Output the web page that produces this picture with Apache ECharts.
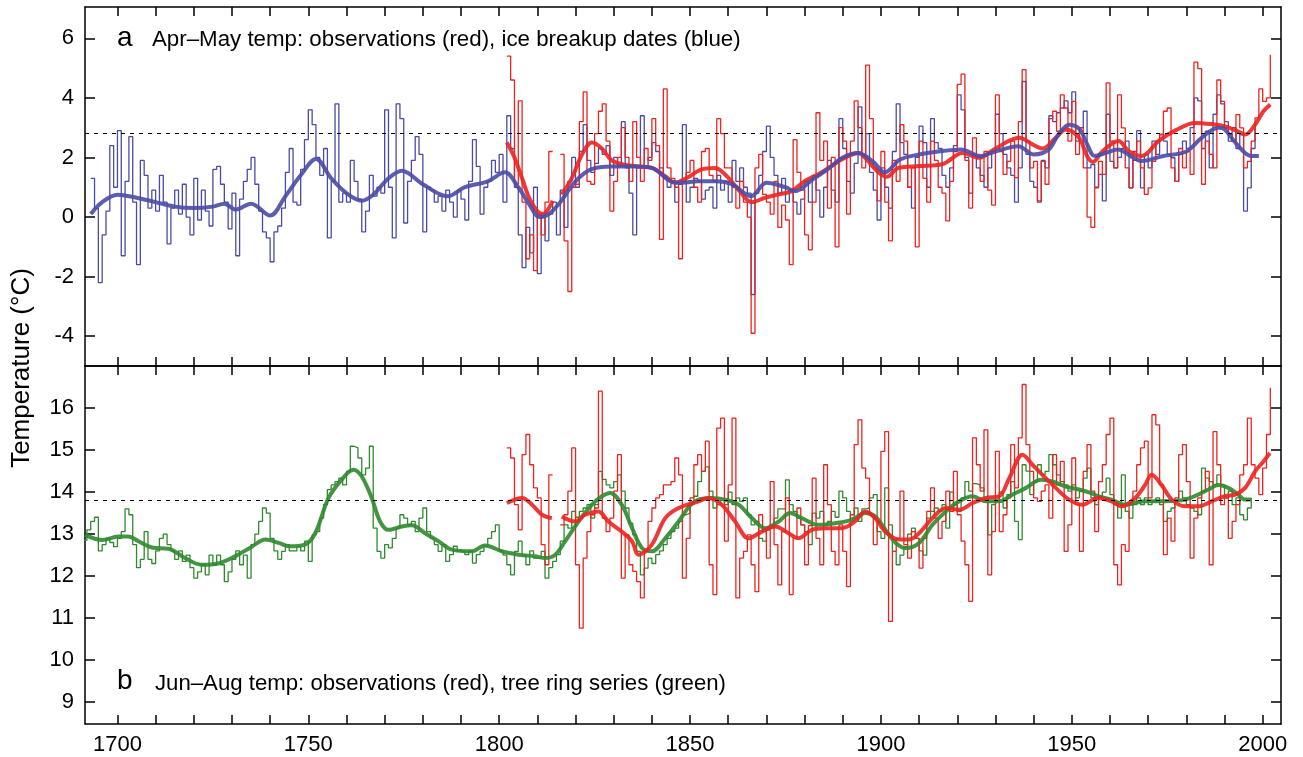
<!DOCTYPE html>
<html>
<head>
<meta charset="utf-8">
<title>Apr-May and Jun-Aug temperature</title>
<script src="https://cdn.jsdelivr.net/npm/echarts@6/dist/echarts.min.js"></script>
<style>
  html, body { margin: 0; padding: 0; background: #fff; }
  #main { width: 1303px; height: 757px; }
</style>
</head>
<body>
<div id="main"></div>
<script>
// ---- axes ----
var yearTicks = [1700, 1710, 1720, 1730, 1740, 1750, 1760, 1770, 1780, 1790, 1800, 1810, 1820, 1830, 1840,
  1850, 1860, 1870, 1880, 1890, 1900, 1910, 1920, 1930, 1940, 1950, 1960, 1970, 1980, 1990, 2000];
var yearLabels = [1700, 1750, 1800, 1850, 1900, 1950, 2000];
var topTicks = [-4, -2, 0, 2, 4, 6];
var bottomTicks = [9, 10, 11, 12, 13, 14, 15, 16];
var topRef = 2.8;
var bottomRef = 13.8;

// ---- panel a: Apr-May ----
// ice breakup reconstruction (blue), one value per year from iceStart
var iceStart = 1693;
var iceAnnual = [
  1.3, 0.3, -2.2, -0.6, 0.2, 2.4, 1.0,
  2.9, -1.3, 1.2, 2.7, 0.5, -1.6, 1.9, 1.4, 0.3, 0.9,
  0.2, 1.4, 0.5, -0.9, 0.3, 0.9, 0.1, 1.1, 0.0, -0.6,
  1.3, -0.1, 0.9, 0.2, -0.3, 1.6, 1.7, 1.1, 0.5, -0.4,
  0.8, -1.3, 0.6, 1.2, 1.6, 2.0, 1.1, 0.2, -0.5, -0.7,
  -1.5, -0.5, -0.3, 0.3, 1.5, 2.3, 0.5, 0.4, 1.6, 2.6,
  3.6, 3.1, 2.0, 1.4, 2.3, -0.7, 1.2, 3.8, 0.5, 0.8,
  0.5, 1.9, 1.2, 0.6, -0.5, 0.2, 1.4, 0.7, 1.0, 0.8,
  3.6, 1.0, -0.7, 3.8, 3.3, -0.2, 1.2, 1.9, 2.7, 2.1,
  -0.5, 1.0, 0.9, 0.5, 0.7, 0.2, 0.9, 0.5, 0.0, 0.9,
  0.6, -0.1, 1.2, 2.6, 1.7, 0.1, 1.0, 1.2, 1.9, 1.5,
  2.1, 0.5, 3.4, 2.3, 1.0, -0.6, -1.7, -0.35, -1.2, 1.0,
  -1.9, 0.0, -0.8, 0.1, 0.5, -0.6, 0.9, -0.35, 1.2, 2.0,
  1.0, 2.2, 3.1, 1.9, 1.5, 1.8, 2.3, 2.1, 2.4, 1.4,
  2.0, 1.7, 3.2, 1.65, 0.8, -0.6, 1.65, 3.4, 1.65, 2.0,
  2.5, 2.2, 1.65, 1.3, 1.0, 1.2, 0.5, 1.1, 3.1, 0.5,
  1.0, 1.3, 1.2, 0.6, 0.9, 1.0, 0.3, 1.4, 0.9, 1.2,
  0.5, 1.9, 1.2, 1.65, 1.0, 0.8, -2.6, 0.8, 1.4, 2.2,
  3.05, 2.0, 1.4, 0.8, 1.3, 0.5, 0.9, 0.5, 0.1, 0.6,
  1.2, 0.5, 1.4, 0.9, 0.0, 1.0, 1.9, 0.9, 0.5, 3.3,
  2.3, 1.2, 0.8, 1.8, 3.7, 2.1, 2.8, 1.5, 0.9, -0.1,
  1.65, 1.0, 0.3, 2.2, 3.8, 2.5, 2.1, 1.0, 0.3, 2.0,
  3.05, 2.5, 1.0, 3.3, 2.5, 2.3, 1.4, 1.0, 1.65, 2.4,
  4.1, 3.6, 2.0, 0.8, 2.1, 1.65, 1.4, 1.0, 1.65, 2.2,
  3.45, 2.8, 2.1, 1.65, 1.4, 0.5, 1.65, 4.55, 2.1, 1.2,
  1.0, 0.5, 1.9, 1.65, 3.4, 3.2, 3.5, 3.66, 3.9, 3.5,
  4.2, 2.55, 3.0, 3.55, 1.65, 1.76, 1.0, 1.43, 0.54, 3.45,
  1.87, 1.65, 2.0, 2.3, 2.55, 0.98, 1.9, 2.9, 0.98, 2.1,
  1.65, 2.55, 2.1, 2.77, 2.55, 2.1, 1.99, 1.2, 2.1, 2.55,
  2.3, 3.0, 4.0, 3.9, 2.3, 2.88, 1.65, 3.45, 4.1, 3.8,
  3.2, 2.55, 3.0, 2.3, 2.77, 0.2, 0.98, 2.3, 3.2
];
var iceSmooth = [[1693,0.1],[1696,0.5],[1700,0.75],[1705,0.65],[1710,0.5],[1715,0.35],[1720,0.3],[1725,0.35],
  [1728,0.45],[1731,0.25],[1735,0.45],[1740,0.05],[1744,0.7],[1748,1.4],[1752,1.95],[1756,1.3],[1760,0.8],
  [1764,0.55],[1767,0.75],[1771,1.3],[1774.5,1.55],[1780,1.1],[1786.5,0.7],[1791,1.0],[1797,1.2],[1801.5,1.5],
  [1805,1.0],[1808,0.4],[1810.5,0.0],[1813,0.1],[1816,0.5],[1820,1.2],[1824,1.6],[1829.5,1.7],[1836,1.7],
  [1840,1.65],[1845,1.2],[1848,1.15],[1852,1.2],[1857,1.2],[1861,1.1],[1866,0.7],[1870,1.15],[1875,1.0],
  [1877.5,0.87],[1882,1.25],[1886,1.6],[1890,2.0],[1894,2.15],[1898,1.85],[1901,1.5],[1905,1.93],[1910,2.1],
  [1915,2.2],[1921,2.27],[1926,2.05],[1930,2.2],[1936,2.38],[1940,2.1],[1944,2.27],[1946.5,2.77],[1949.3,3.1],
  [1952,2.95],[1954,2.45],[1956,2.05],[1960,2.2],[1962,2.27],[1966,2.0],[1968.3,1.88],[1974,2.05],[1980,2.2],
  [1984,2.66],[1988.4,3.0],[1990,2.95],[1992.5,2.55],[1995.4,2.15],[1997,2.05],[1999,2.05]];

// Apr-May observations (red), null = no record
var aprMayStart = 1802;
var aprMayObs = [
  5.4, 4.6, 1.1, 3.9, 0.5, -1.4, -0.6, -1.8,
  0.1, -0.6, 0.5, 2.2, null, null, 2.1, -0.8, -2.5, 1.0,
  1.1, 3.2, 4.2, 1.2, 1.1, 2.8, 3.55, 3.8, 2.55, 0.2,
  1.2, 2.0, 3.0, 2.0, 1.2, 3.2, 2.0, 1.2, 2.3, 1.9,
  3.3, 2.4, -0.75, 4.3, 1.65, 1.3, 1.0, -1.4, 1.2, 1.5,
  1.9, 1.0, 0.5, 2.2, 2.3, 1.4, 1.2, 3.3, 2.8, 1.65,
  1.65, 1.0, 0.3, 1.2, 0.5, 0.0, -3.9, 1.65, 2.1, 0.76,
  0.5, 0.1, 1.2, -0.35, 0.4, -0.1, -1.6, 2.6, 1.5, 0.9,
  -0.6, -1.1, 0.5, 3.5, 1.9, 2.55, 0.3, 2.0, -1.0, 3.0,
  2.55, 0.1, 2.55, 3.9, 3.0, 1.65, 5.1, 3.3, 1.65, 0.54,
  2.2, 0.5, -0.8, 1.9, 1.2, 3.1, 2.55, 1.0, 1.65, -1.0,
  2.55, 1.3, 0.5, 2.55, 1.9, 1.0, 0.8, -0.13, 1.2, 2.2,
  4.45, 4.8, 1.9, 0.3, 2.66, 2.0, 1.2, 2.2, 0.9, 0.4,
  4.1, 2.2, 1.43, 1.87, 2.55, 1.32, 3.2, 4.95, 2.55, 1.65,
  1.87, 0.54, 1.87, 1.1, 3.3, 3.55, 2.88, 4.1, 3.66, 2.55,
  3.88, 2.1, 3.0, 1.65, 0.0, -0.35, 0.98, 1.87, 1.43, 4.5,
  2.55, 1.65, 4.1, 2.99, 1.65, 0.98, 2.2, 2.55, 1.65, 0.76,
  0.98, 1.87, 2.55, 2.77, 3.55, 3.66, 1.65, 1.2, 2.3, 1.65,
  2.2, 1.43, 5.2, 4.98, 1.1, 2.55, 2.1, 1.65, 4.6, 3.88,
  2.99, 2.77, 2.55, 3.44, 2.99, 1.65, 1.87, 2.55, 3.33, 4.3,
  3.88, 4.0, 5.45
];
var aprMaySmoothEarly = [[1802,2.5],[1804,2.0],[1806,1.3],[1808,0.6],[1810,0.2],[1811.5,0.1],[1813,0.3],[1814,0.55]];
var aprMaySmooth = [[1816.4,0.76],[1819,1.3],[1821.7,2.1],[1824.3,2.5],[1826.9,2.3],[1829.5,1.9],[1833,1.75],
  [1836.5,1.7],[1840,1.65],[1843.5,1.37],[1846,1.15],[1849,1.3],[1853,1.6],[1856.5,1.65],[1860,1.32],[1863,0.87],
  [1866.2,0.5],[1869.7,0.65],[1873.2,0.76],[1876.6,0.87],[1880,1.2],[1883.5,1.43],[1887,1.71],[1890.6,1.99],
  [1894.1,2.15],[1896.3,1.93],[1899,1.54],[1901.5,1.35],[1904.6,1.65],[1910,1.71],[1916,1.77],[1921.4,2.15],
  [1925.7,1.99],[1930,2.3],[1936.2,2.66],[1939.7,2.44],[1942.3,2.3],[1945.8,2.66],[1948.4,2.94],[1951.9,2.66],
  [1954,2.05],[1955.5,1.85],[1958,2.2],[1962.2,2.55],[1965,2.2],[1968.3,2.05],[1972.7,2.55],[1977,2.9],
  [1982.3,3.16],[1986.6,3.12],[1990,3.05],[1993.5,2.88],[1995.4,2.77],[1998,3.1],[2000.2,3.55],[2002,3.78]];

// ---- panel b: Jun-Aug ----
// tree ring reconstruction (green)
var treeStart = 1691;
var treeAnnual = [
  12.85, 13.1, 13.3, 13.4, 12.6, 12.75, 12.9, 12.8, 12.7,
  12.9, 13.06, 13.6, 13.46, 12.75, 12.2, 12.4, 13.06, 12.4, 12.3,
  12.6, 12.9, 13.0, 12.75, 12.6, 12.4, 12.6, 12.35, 12.5, 12.2,
  11.95, 12.1, 12.27, 12.03, 12.5, 12.27, 12.5, 12.27, 11.87, 12.1,
  12.4, 12.6, 12.27, 12.5, 11.95, 12.75, 13.0, 13.3, 13.62, 13.5,
  12.9, 12.6, 12.4, 12.59, 12.75, 12.6, 12.6, 12.7, 12.6, 12.83,
  12.35, 12.98, 13.06, 13.38, 13.7, 14.06, 14.17, 14.25, 14.33, 14.17,
  14.49, 15.09, 15.05, 14.81, 14.41, 14.57, 15.09, 13.14, 12.59, 12.43,
  12.75, 12.67, 12.9, 13.14, 13.46, 13.38, 13.22, 13.3, 13.06, 13.38,
  13.62, 13.06, 12.9, 12.75, 12.59, 12.75, 12.35, 12.51, 12.71, 12.6,
  12.59, 12.51, 12.59, 12.31, 12.51, 12.59, 12.71, 12.9, 13.06, 13.22,
  12.6, 12.5, 12.27, 12.03, 12.59, 12.83, 12.5, 12.27, 12.6, 12.43,
  12.45, 12.59, 11.95, 12.2, 12.35, 12.51, 12.83, 13.22, 13.14, 13.54,
  13.4, 13.54, 13.62, 13.7, 13.38, 13.7, 14.49, 14.3, 14.17, 14.1,
  14.25, 14.41, 14.02, 13.62, 13.26, 12.98, 12.59, 12.03, 12.19, 12.43,
  12.3, 12.51, 12.6, 12.75, 12.9, 13.06, 13.14, 13.3, 13.46, 13.5,
  13.7, 13.9, 14.25, 14.49, 14.6, 14.02, 13.62, 13.7, 13.8, 13.7,
  14.0, 13.7, 13.86, 13.78, 13.86, 13.46, 13.22, 13.3, 12.9, 12.83,
  13.1, 13.22, 13.38, 13.6, 13.6, 14.29, 13.7, 13.54, 13.38, 13.22,
  13.06, 12.75, 13.5, 13.38, 13.54, 13.22, 13.3, 13.54, 13.4, 14.02,
  13.86, 13.54, 13.38, 13.62, 13.3, 13.6, 13.62, 13.86, 13.94, 13.06,
  12.9, 14.1, 13.22, 12.59, 12.27, 12.5, 12.7, 13.0, 13.14, 12.9,
  12.6, 12.5, 13.38, 13.54, 13.62, 13.54, 13.7, 13.14, 14.0, 13.7,
  13.54, 13.86, 14.25, 14.02, 14.2, 14.17, 14.1, 13.86, 12.98, 13.7,
  13.78, 14.0, 13.62, 13.94, 14.25, 13.3, 12.87, 14.65, 14.5, 13.94,
  14.25, 14.65, 14.41, 14.49, 14.89, 14.65, 14.41, 14.25, 14.17, 14.02,
  14.17, 13.86, 14.02, 14.33, 14.57, 13.86, 13.7, 13.9, 14.0, 14.33,
  13.94, 13.7, 13.38, 14.41, 13.54, 13.38, 13.7, 13.86, 13.7, 13.86,
  13.7, 13.78, 13.86, 13.7, 13.3, 13.54, 13.62, 13.78, 14.02, 13.86,
  13.7, 13.62, 13.54, 13.46, 14.57, 14.33, 14.25, 14.17, 14.41, 14.17,
  13.86, 14.02, 13.7, 13.86, 13.46, 13.34, 13.62, 13.86
];
var treeSmooth = [[1691.5,12.98],[1696,12.86],[1700.2,12.94],[1702.8,12.94],[1705.5,12.83],[1709,12.68],
  [1713.4,12.65],[1717.7,12.43],[1722,12.27],[1726.4,12.3],[1730.8,12.47],[1735.2,12.7],[1738.7,12.87],
  [1742.2,12.79],[1745,12.71],[1749.1,12.75],[1751.8,13.02],[1755.3,13.86],[1758.7,14.29],[1761.8,14.53],
  [1764,14.37],[1766.6,13.86],[1768.8,13.3],[1771,13.1],[1774.5,13.18],[1777.1,13.21],[1780.6,13.02],
  [1784.1,12.83],[1787.6,12.63],[1792.8,12.59],[1796.3,12.73],[1800.7,12.59],[1805.1,12.51],[1809.4,12.47],
  [1812,12.43],[1814.7,12.51],[1817.3,12.83],[1820.8,13.3],[1824.3,13.7],[1826.9,13.9],[1829.1,13.98],
  [1832.1,13.7],[1834.8,13.14],[1837.4,12.67],[1840,12.59],[1843.5,12.9],[1847,13.3],[1850,13.68],
  [1852.2,13.82],[1855.7,13.86],[1859.2,13.82],[1862.7,13.7],[1866.2,13.38],[1869.7,13.14],[1873.2,13.3],
  [1876.2,13.5],[1879.3,13.38],[1883.6,13.22],[1888,13.26],[1892.4,13.34],[1895.9,13.5],[1898.5,13.42],
  [1901.2,13.1],[1903.9,12.79],[1906.5,12.67],[1910,12.79],[1913.5,13.22],[1917,13.54],[1920.5,13.78],
  [1924,13.9],[1927.5,13.78],[1931,13.78],[1934.5,13.94],[1938,14.1],[1941.9,14.29],[1944.9,14.25],
  [1948.4,14.13],[1951.9,14.06],[1954.9,13.98],[1956.9,13.9],[1960.4,13.82],[1963.9,13.7],[1969.2,13.78],
  [1974.4,13.78],[1979.7,13.82],[1983.1,13.94],[1985.8,14.06],[1988.4,14.17],[1991,14.1],[1993.6,13.94],
  [1995.4,13.82],[1997.1,13.82]];

// Jun-Aug observations (red)
var junAugStart = 1802;
var junAugObs = [
  15.05, 14.81, 13.7, 13.1, 14.89, 15.37, 14.65, 14.1,
  13.86, 12.75, 12.27, 14.41, null, null, 13.22, 13.46, 14.02, 15.05,
  12.27, 10.76, 12.43, 13.06, 13.46, 13.62, 16.4, 13.38, 13.06, 13.38,
  14.02, 14.89, 11.95, 12.98, 12.27, 12.11, 11.87, 11.48, 12.59, 13.3,
  13.62, 13.86, 13.94, 14.17, 14.17, 14.25, 14.81, 14.41, 11.95, 12.9,
  13.86, 14.65, 14.89, 14.49, 15.21, 12.27, 11.56, 15.52, 15.76, 12.83,
  14.17, 15.76, 11.48, 12.43, 12.59, 12.98, 12.27, 11.63, 13.46, 13.06,
  12.43, 14.25, 12.75, 11.79, 13.06, 13.86, 11.56, 12.9, 13.62, 13.22,
  12.27, 13.2, 14.33, 12.9, 12.27, 14.65, 13.7, 12.59, 12.27, 13.22,
  12.59, 11.75, 13.46, 15.13, 15.72, 14.57, 14.33, 13.46, 12.75, 13.3,
  14.97, 15.44, 10.92, 12.59, 12.9, 14.02, 12.75, 12.43, 13.06, 12.9,
  12.19, 12.9, 13.54, 14.1, 13.38, 12.9, 13.3, 14.02, 13.54, 14.49,
  13.46, 12.83, 12.27, 11.4, 15.29, 14.65, 14.02, 15.48, 12.03, 13.06,
  14.97, 13.06, 13.46, 13.86, 15.13, 14.1, 15.29, 16.56, 15.13, 14.49,
  13.86, 13.78, 14.02, 14.17, 13.38, 14.89, 14.17, 14.73, 12.59, 13.22,
  14.81, 13.7, 12.59, 14.49, 15.13, 14.02, 13.06, 14.25, 14.65, 15.37,
  15.76, 12.27, 11.79, 12.75, 12.59, 13.7, 14.02, 14.65, 15.05, 15.21,
  13.86, 15.84, 15.6, 14.17, 12.51, 13.38, 12.83, 13.86, 14.89, 15.13,
  14.25, 12.43, 13.38, 13.86, 14.02, 14.49, 12.27, 15.44, 14.65, 13.7,
  13.86, 12.9, 13.3, 13.7, 14.41, 14.65, 15.76, 14.65, 14.33, 13.94,
  14.57, 15.37, 16.48
];
var junAugSmoothEarly = [[1802,13.74],[1806,13.86],[1808.6,13.7],[1811.2,13.46],[1813.8,13.38]];
var junAugSmooth = [[1816.4,13.42],[1819.9,13.3],[1822.5,13.46],[1826,13.54],[1828.6,13.3],[1832.1,13.06],
  [1834.8,12.83],[1836.5,12.51],[1840,12.75],[1843.5,13.38],[1847,13.62],[1852.2,13.78],[1854.8,13.86],
  [1858.3,13.7],[1861.8,13.3],[1865.3,12.9],[1868.8,13.06],[1872.3,13.18],[1875.8,13.02],[1878.4,12.9],
  [1881.9,13.1],[1885.4,13.14],[1889.7,13.14],[1893.2,13.3],[1895.9,13.54],[1898.5,13.38],[1901.1,13.06],
  [1904.8,12.87],[1907.4,12.87],[1910,13.02],[1913.5,13.38],[1917,13.62],[1920.5,13.58],[1924,13.74],
  [1927.5,13.86],[1931,13.9],[1933.6,14.33],[1937.1,14.89],[1939.7,14.65],[1942.3,14.41],[1945.8,14.1],
  [1949.3,13.82],[1952.8,13.7],[1956.9,13.86],[1960.4,13.78],[1963.1,13.66],[1966.6,13.86],[1969.2,14.17],
  [1970.9,14.41],[1973.5,14.17],[1976.2,13.82],[1979.7,13.66],[1983.1,13.66],[1986.6,13.78],[1990.1,13.9],
  [1992.8,13.94],[1995.4,14.1],[1998,14.49],[2000.2,14.73],[2001.9,14.93]];

// ---- chart ----
var XMIN = 1691.5, XMAX = 2004.8;
var BLUE = "#4b4ba6", RED = "#ec2320", GREEN = "#2f8a2f";
var FONT = "Liberation Sans, Arial, Helvetica, sans-serif";

function annual(start, vals) {
  return vals.map(function (v, i) { return [start + i, v]; });
}

function xAx(grid, pos, labels) {
  return {
    gridIndex: grid, type: "value", position: pos, min: XMIN, max: XMAX,
    axisLine: { show: true, onZero: false, lineStyle: { color: "#000", width: 1.5 } },
    axisTick: { show: true, inside: true, length: 9, customValues: yearTicks, lineStyle: { color: "#000", width: 1.5 } },
    axisLabel: labels ? {
      show: true, customValues: yearLabels, color: "#000", fontSize: 22, fontFamily: FONT, margin: 10,
      formatter: function (v) { return String(v); }
    } : { show: false },
    splitLine: { show: false }
  };
}

function yAx(grid, pos, min, max, ticks, labels) {
  return {
    gridIndex: grid, type: "value", position: pos, min: min, max: max,
    axisLine: { show: true, onZero: false, lineStyle: { color: "#000", width: 1.5 } },
    axisTick: { show: true, inside: true, length: 10, customValues: ticks, lineStyle: { color: "#000", width: 1.5 } },
    axisLabel: labels ? { show: true, customValues: ticks, color: "#000", fontSize: 22, fontFamily: FONT, margin: 11 } : { show: false },
    splitLine: { show: false }
  };
}

function stepLine(name, data, xi, yi, color, ref) {
  var s = {
    name: name, type: "line", step: "end", data: data, xAxisIndex: xi, yAxisIndex: yi,
    showSymbol: false, connectNulls: false, silent: true,
    lineStyle: { color: color, width: 1.3 }, itemStyle: { color: color }
  };
  if (ref !== undefined) {
    s.markLine = {
      silent: true, symbol: ["none", "none"], label: { show: false },
      lineStyle: { color: "#000", width: 1, type: [4, 5] },
      data: [{ yAxis: ref }]
    };
  }
  return s;
}

function smoothLine(name, data, xi, yi, color) {
  return {
    name: name, type: "line", smooth: 0.35, data: data, xAxisIndex: xi, yAxisIndex: yi,
    showSymbol: false, silent: true,
    lineStyle: { color: color, width: 4, opacity: 0.9 }, itemStyle: { color: color }
  };
}

var myChart = echarts.init(document.getElementById("main"));

var option = {
  animation: false,
  backgroundColor: "#fff",
  grid: [
    { left: 85, right: 22, top: 7, height: 359 },
    { left: 85, right: 22, top: 366, height: 358 }
  ],
  xAxis: [
    xAx(0, "bottom", false),
    xAx(0, "top", false),
    xAx(1, "top", false),
    xAx(1, "bottom", true)
  ],
  yAxis: [
    yAx(0, "left", -5, 7.05, topTicks, true),
    yAx(0, "right", -5, 7.05, topTicks, false),
    yAx(1, "left", 8.48, 17.0, bottomTicks, true),
    yAx(1, "right", 8.48, 17.0, bottomTicks, false)
  ],
  graphic: [
    { type: "text", x: 117, y: 38, style: { text: "a", font: "28px " + FONT, fill: "#000", verticalAlign: "middle" } },
    { type: "text", x: 152, y: 40, style: { text: "Apr\u2013May temp: observations (red), ice breakup dates (blue)", font: "22.3px " + FONT, fill: "#000", verticalAlign: "middle" } },
    { type: "text", x: 117, y: 681, style: { text: "b", font: "28px " + FONT, fill: "#000", verticalAlign: "middle" } },
    { type: "text", x: 155, y: 684, style: { text: "Jun\u2013Aug temp: observations (red), tree ring series (green)", font: "22.2px " + FONT, fill: "#000", verticalAlign: "middle" } },
    { type: "text", x: 22, y: 368, rotation: Math.PI / 2, style: { text: "Temperature (\u00b0C)", font: "26px " + FONT, fill: "#000", align: "center", verticalAlign: "middle" } }
  ],
  series: [
    stepLine("ice breakup", annual(iceStart, iceAnnual), 0, 0, BLUE, topRef),
    stepLine("Apr-May obs", annual(aprMayStart, aprMayObs), 0, 0, RED),
    smoothLine("Apr-May obs smooth early", aprMaySmoothEarly, 0, 0, RED),
    smoothLine("Apr-May obs smooth", aprMaySmooth, 0, 0, RED),
    smoothLine("ice breakup smooth", iceSmooth, 0, 0, BLUE),

    stepLine("tree ring", annual(treeStart, treeAnnual), 3, 2, GREEN, bottomRef),
    stepLine("Jun-Aug obs", annual(junAugStart, junAugObs), 3, 2, RED),
    smoothLine("tree ring smooth", treeSmooth, 3, 2, GREEN),
    smoothLine("Jun-Aug obs smooth early", junAugSmoothEarly, 3, 2, RED),
    smoothLine("Jun-Aug obs smooth", junAugSmooth, 3, 2, RED)
  ]
};

myChart.setOption(option);
</script>
</body>
</html>
